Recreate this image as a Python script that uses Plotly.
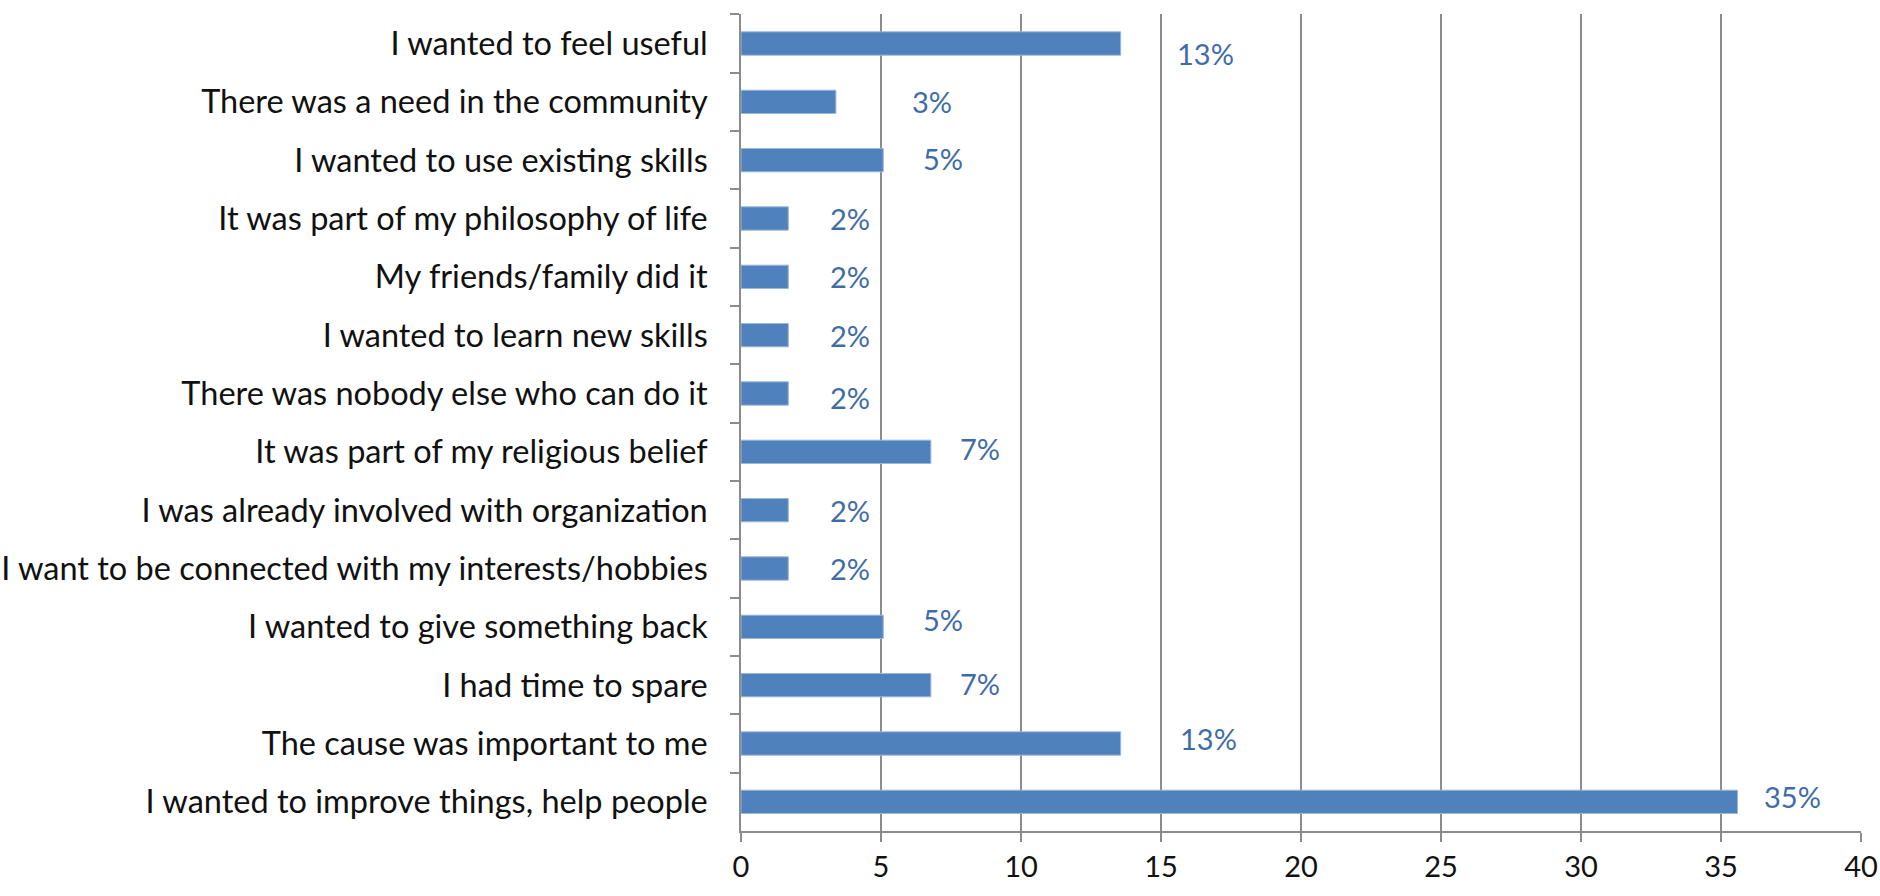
import plotly.graph_objects as go

# Reasons for volunteering, top to bottom
categories = [
    "I wanted to feel useful",
    "There was a need in the community",
    "I wanted to use existing skills",
    "It was part of my philosophy of life",
    "My friends/family did it",
    "I wanted to learn new skills",
    "There was nobody else who can do it",
    "It was part of my religious belief",
    "I was already involved with organization",
    "I want to be connected with my interests/hobbies",
    "I wanted to give something back",
    "I had time to spare",
    "The cause was important to me",
    "I wanted to improve things, help people",
]
# Share of respondents (%)
values = [13.56, 3.39, 5.08, 1.69, 1.69, 1.69, 1.69, 6.78, 1.69, 1.69, 5.08, 6.78, 13.56, 35.59]
value_labels = ["13%", "3%", "5%", "2%", "2%", "2%", "2%", "7%", "2%", "2%", "5%", "7%", "13%", "35%"]
x_ticks = [0, 5, 10, 15, 20, 25, 30, 35, 40]

# label placement relative to bar ends (pixels)
label_dx = [85, 96, 60, 62, 62, 62, 62, 49, 62, 62, 60, 49, 88, 55]
label_dy = [-10, 0, 2, 0, 0, 0, -4, 3, 0, 0, 7, 2, 5, 5]

FONT = "Lato"
BAR = "#4F81BD"
GRID = "#8c8c8c"

fig = go.Figure(
    go.Bar(
        x=values,
        y=categories,
        orientation="h",
        marker=dict(color=BAR, line=dict(color="#9db7d8", width=1)),
        width=0.4,
        hoverinfo="x+y",
    )
)

for cat, v, txt, dx, dy in zip(categories, values, value_labels, label_dx, label_dy):
    fig.add_annotation(
        x=v, y=cat, text=txt, showarrow=False,
        xanchor="center", yanchor="middle",
        xshift=dx, yshift=dy,
        font=dict(family=FONT, size=29, color="#3F6CA8"),
    )

fig.update_layout(
    width=1880,
    height=896,
    margin=dict(l=741, r=19, t=14, b=65, autoexpand=False),
    paper_bgcolor="white",
    plot_bgcolor="white",
    showlegend=False,
    font=dict(family=FONT, size=32.5, color="#111111"),
)
fig.update_xaxes(
    range=[0, 40],
    tickvals=x_ticks,
    showgrid=True, gridcolor=GRID, gridwidth=1.5,
    showline=True, linecolor=GRID, linewidth=1.5,
    ticks="outside", ticklen=9, tickcolor=GRID, tickwidth=1.5,
    tickfont=dict(family=FONT, size=29, color="#111111"),
    zeroline=False,
    mirror=False,
)
fig.update_yaxes(
    autorange="reversed",
    showline=True, linecolor=GRID, linewidth=1.5,
    ticks="outside", ticklen=9, tickcolor=GRID, tickwidth=1.5,
    tickson="boundaries",
    showgrid=False,
    ticklabelstandoff=25,
    tickfont=dict(family=FONT, size=32.5, color="#111111"),
)

fig.write_html("out.html")
